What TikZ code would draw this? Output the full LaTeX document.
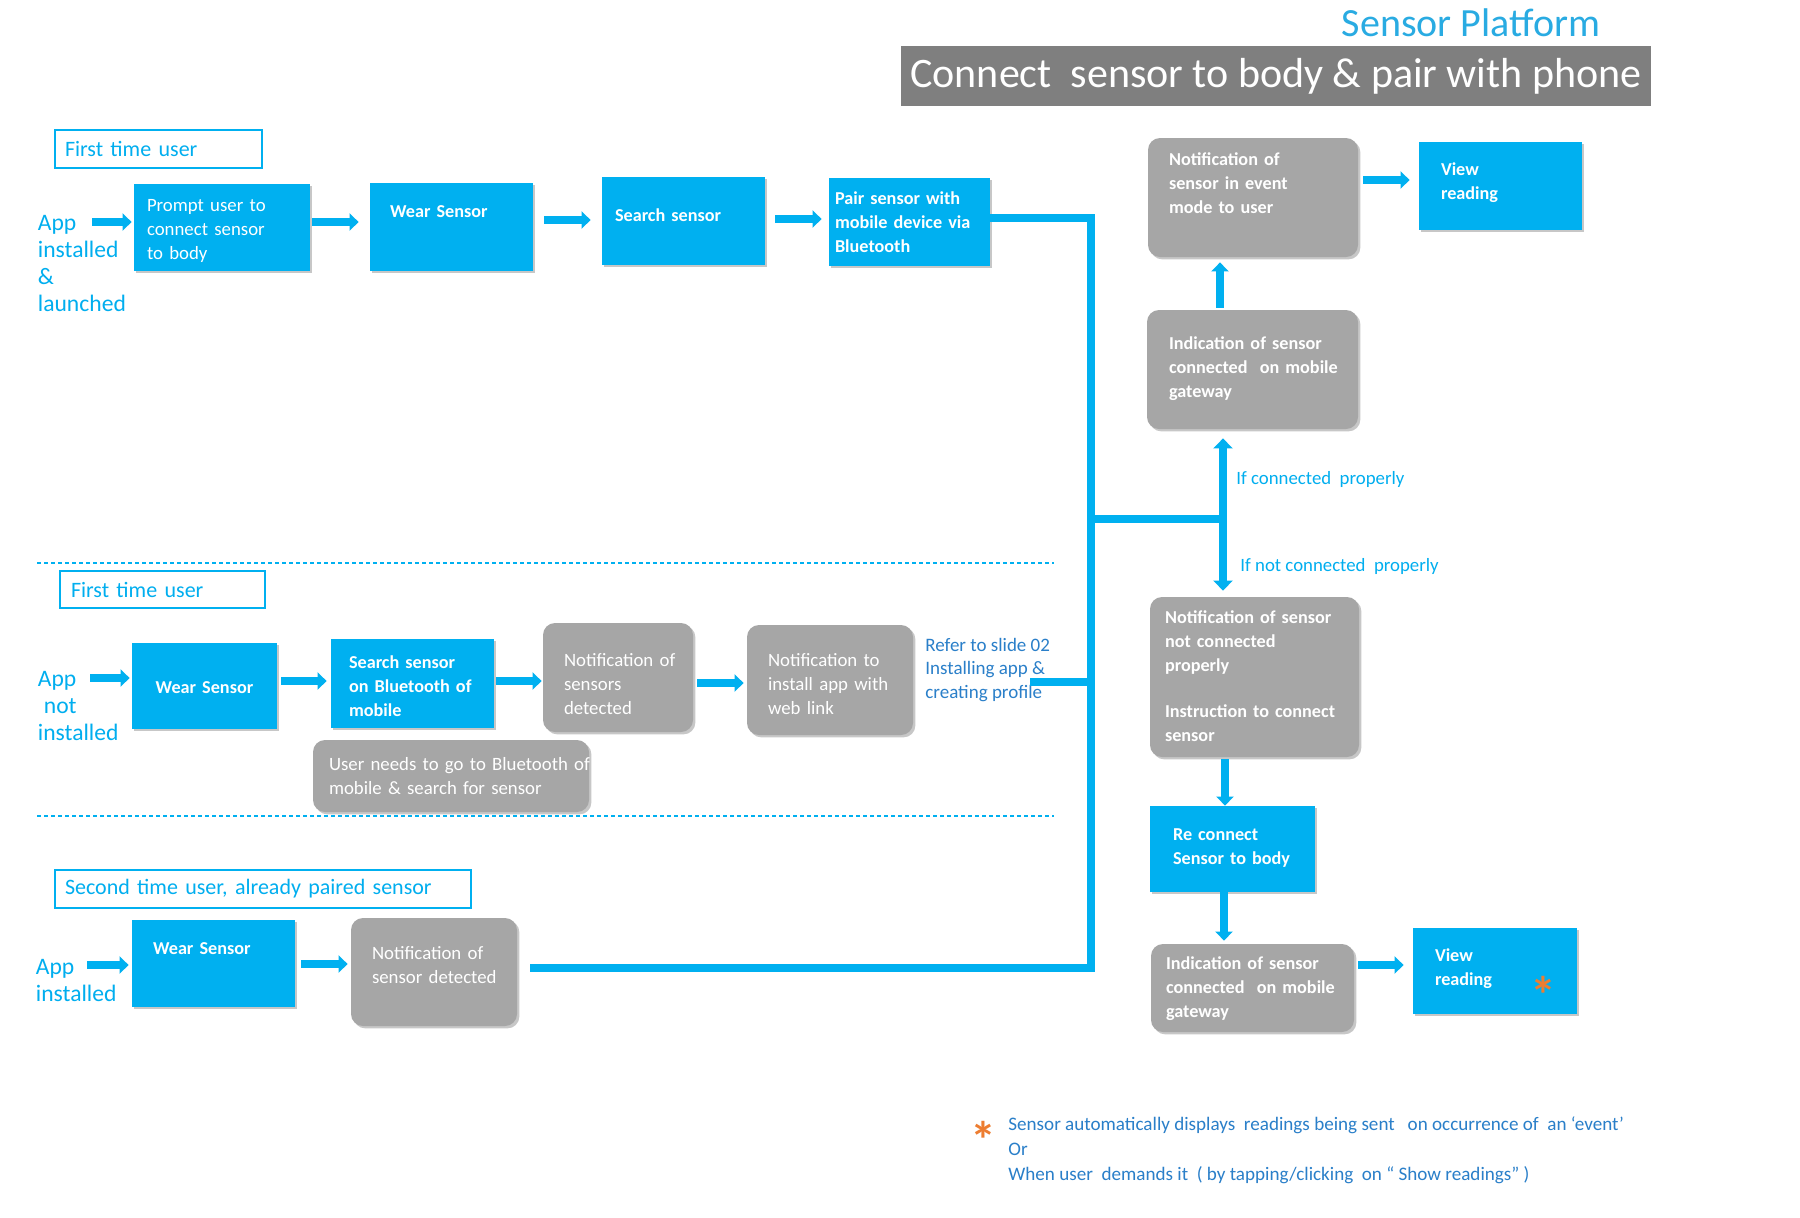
\documentclass[tikz,border=0pt]{standalone}
\usepackage{fontspec}
\setmainfont{Carlito}
\usetikzlibrary{arrows.meta,shadows}
\definecolor{cblue}{HTML}{00B0F0}
\definecolor{cgray}{HTML}{A6A6A6}
\definecolor{cbanner}{HTML}{7F7F7F}
\definecolor{ctext}{HTML}{00AEEF}
\definecolor{cdark}{HTML}{2A7FC9}
\definecolor{corange}{HTML}{ED7D31}
\definecolor{ctitle}{HTML}{29ABE2}
\newcommand\bxfont{\fontsize{9.1}{12}\selectfont\bfseries}
\newcommand\rgfont{\fontsize{9.4}{12}\selectfont}
\tikzset{
  boxshadow/.style={drop shadow={shadow xshift=1.2pt, shadow yshift=-1.2pt, opacity=0.22, fill=black}},
  nobreak/.style={execute at begin node={\hyphenpenalty=10000 \exhyphenpenalty=10000 \lefthyphenmin=64 }},
  bluebox/.style={fill=cblue, boxshadow, text=white, font=\bxfont, align=left, inner ysep=0pt, nobreak},
  graybox/.style={fill=cgray, rounded corners=6pt, boxshadow, text=white, font=\bxfont, align=left, inner ysep=0pt, nobreak},
  regtext/.style={font=\rgfont},
  tup/.style={text height=0pt, text depth=#1},
  tdn/.style={text height=#1, text depth=0pt},
  labbox/.style={draw=cblue, line width=0.8pt, text=ctext, font=\fontsize{11}{13}\selectfont, align=left, inner ysep=0pt},
  sidetext/.style={text=ctext, font=\fontsize{11.8}{13.5}\selectfont, align=left, inner sep=0pt, anchor=north west},
  barrow/.style={draw=cblue, line width=4pt, -{Triangle[width=8.5pt,length=4.5pt]}},
  busline/.style={draw=cblue, line width=4pt, line join=miter},
  varrow/.style={draw=cblue, line width=4pt, {Triangle[width=9.5pt,length=5pt]}-{Triangle[width=9.5pt,length=5pt]}},
  dashsep/.style={draw=cblue, line width=0.8pt, dash pattern=on 2pt off 1.5pt},
  condlabel/.style={anchor=west, text=ctext, font=\rgfont, inner sep=0pt},
  footline/.style={anchor=base west, text=cdark, font=\fontsize{9.55}{12}\selectfont, inner sep=0pt},
  starmark/.style={text=corange, font=\fontsize{26}{26}\selectfont\bfseries, inner sep=0pt, anchor=north},
}
\begin{document}
\begin{tikzpicture}[x=0.5pt,y=-0.5pt]
\fill[white] (0,0) rectangle (1800,1217);
\useasboundingbox (0,0) rectangle (1800,1217);

% title
\node[text=ctitle, font=\fontsize{20}{20}\selectfont, inner sep=0pt] (title) at (1471,23) {Sensor Platform};
\node[fill=cbanner, minimum width=375pt, minimum height=30pt, inner sep=0pt, text=white, font=\fontsize{21}{21}\selectfont] (banner) at (1276,76) {Connect\ \ sensor to body \& pair with phone};

% separators
\draw[dashsep] (37,563) -- (1054,563);
\draw[dashsep] (37,816) -- (1054,816);

% ---------- row 1 ----------
\node[labbox, inner xsep=5pt, text width=93.5pt, minimum height=19pt] (lab1) at (158.5,149) {First time user};
\node[sidetext] (app1) at (37.5,214.5) {App\\installed\\\&\\launched};
\node[bluebox, regtext, tup=16.2pt, inner xsep=6.5pt, text width=75pt, minimum height=43.5pt] (prompt) at (222,227.5) {Prompt~user~to\\connect~sensor\\to~body};
\node[bluebox, tup=9.9pt, inner xsep=10pt, text width=61.5pt, minimum height=44pt] (wear1) at (451.5,227) {Wear~Sensor};
\node[bluebox, tdn=0.7pt, inner xsep=6.5pt, text width=68.5pt, minimum height=44pt] (search1) at (683.5,221) {Search~sensor};
\node[bluebox, tup=17.5pt, inner xsep=3pt, text width=74.5pt, minimum height=44pt] (pair) at (909.5,222) {Pair~sensor~with\\mobile~device~via\\Bluetooth};

\coordinate (a1s) at (92,222);
\coordinate (r1a) at (0,222);
\coordinate (r1b) at (0,220);
\coordinate (r1c) at (0,219);
\draw[barrow, shorten >=1pt] (a1s) -- (a1s -| prompt.west);
\draw[barrow, shorten <=1pt, shorten >=5.5pt] (prompt.east |- r1a) -- (wear1.west |- r1a);
\draw[barrow, shorten <=5.5pt, shorten >=5.5pt] (wear1.east |- r1b) -- (search1.west |- r1b);
\draw[barrow, shorten <=5pt, shorten >=3.5pt] (search1.east |- r1c) -- (pair.west |- r1c);

% ---------- right column ----------
\node[graybox, tup=32.1pt, inner xsep=10.5pt, text width=84pt, minimum height=59.5pt] (notifev) at (1253,197.5) {Notification~of\\sensor~in~event\\mode~to~user};
\node[bluebox, tup=10.2pt, inner xsep=11pt, text width=59.5pt, minimum height=44pt] (view1) at (1500.5,186) {View\\reading};
\node[graybox, tup=20.4pt, inner xsep=11pt, text width=83.5pt, minimum height=59.5pt] (ind1) at (1252.5,369.5) {Indication~of~sensor\\connected~~on~mobile\\gateway};
\node[graybox, tup=53.5pt, inner xsep=7.5pt, text width=89.5pt, minimum height=80pt] (notconn) at (1254.5,677) {Notification~of~sensor\\not~connected\\properly\\[11pt]Instruction~to~connect\\sensor};
\node[bluebox, tup=8.6pt, inner xsep=11.5pt, text width=59.5pt, minimum height=43pt] (reconn) at (1232.5,849) {Re~connect\\Sensor~to~body};
\node[graybox, tup=19pt, inner xsep=7.5pt, text width=86.5pt, minimum height=44pt] (ind2) at (1252.5,988) {Indication~of~sensor\\connected~~on~mobile\\gateway};
\node[bluebox, tup=10pt, inner xsep=11pt, text width=60pt, minimum height=43pt] (view2) at (1495,971) {View\\reading};
\node[starmark] (star2) at (1543,976) {*};

\coordinate (xa) at (1220,0);
\coordinate (xb) at (1225,0);
\coordinate (xc) at (1224,0);
\coordinate (ya) at (0,180);
\coordinate (yb) at (0,965);
\draw[barrow, shorten <=1pt, shorten >=2.5pt] (xa |- ind1.north) -- (xa |- notifev.south);
\draw[barrow, shorten <=2.5pt, shorten >=4.5pt] (notifev.east |- ya) -- (view1.west |- ya);
\draw[barrow, shorten <=1pt] (xb |- notconn.south) -- (xb |- reconn.north);
\draw[barrow, shorten >=1.5pt] (xc |- reconn.south) -- (xc |- ind2.north);
\draw[barrow, shorten <=2pt, shorten >=4.5pt] (ind2.east |- yb) -- (view2.west |- yb);

\node[condlabel] (lcon) at (1236,479) {If connected\ \ properly};
\node[condlabel] (lnot) at (1240,566) {If not connected\ \ properly};

% ---------- row 2 ----------
\node[labbox, inner xsep=5.5pt, text width=91.5pt, minimum height=18.5pt] (lab2) at (162.5,589.5) {First time user};
\node[sidetext] (app2) at (37.5,670.5) {App\\\hspace{3pt}not\\installed};
\node[bluebox, tdn=7.5pt, align=center, inner xsep=0pt, text width=72.5pt, minimum height=43pt] (wear2) at (204.5,686) {Wear~Sensor};
\node[bluebox, tup=15.3pt, inner xsep=9pt, text width=63.5pt, minimum height=44.5pt] (searchbt) at (412.5,683.5) {Search~sensor\\on~Bluetooth~of\\mobile};
\node[graybox, regtext, tup=11.5pt, inner xsep=10.5pt, text width=54pt, minimum height=54.5pt] (notifsens) at (618,677.5) {Notification~of\\sensors\\detected};
\node[graybox, regtext, tup=14pt, inner xsep=10.5pt, text width=62pt, minimum height=55pt] (notifinst) at (830,680) {Notification~to\\install~app~with\\web~link};
\node[graybox, regtext, tup=5.6pt, inner xsep=8pt, text width=122pt, minimum height=36pt] (userneeds) at (451,776) {User~needs~to~go~to~Bluetooth~of\\mobile~\&~search~for~sensor};
\node[anchor=north west, text=cdark, font=\fontsize{9.5}{11.8}\selectfont, align=left, inner sep=0pt] (refer) at (925,637.5) {Refer to slide 02\\Installing app \&\\creating profile};

\coordinate (a2s) at (90,678);
\coordinate (y2a) at (0,681);
\coordinate (y2b) at (0,683);
\draw[barrow, shorten >=1pt] (a2s) -- (a2s -| wear2.west);
\draw[barrow, shorten <=2pt, shorten >=2pt] (wear2.east |- y2a) -- (searchbt.west |- y2a);
\draw[barrow, shorten <=1pt, shorten >=0.5pt] (searchbt.east |- y2a) -- (notifsens.west |- y2a);
\draw[barrow, shorten <=2pt, shorten >=1.5pt] (notifsens.east |- y2b) -- (notifinst.west |- y2b);

% ---------- row 3 ----------
\node[labbox, inner xsep=5pt, text width=198pt, minimum height=19pt] (lab3) at (263,889) {Second time user, already paired sensor};
\node[sidetext] (app3) at (35.5,958.5) {App\\installed};
\node[bluebox, tup=9.4pt, inner xsep=10.5pt, text width=60.5pt, minimum height=43.5pt] (wear3) at (213.5,963.5) {Wear~Sensor};
\node[graybox, regtext, tup=12.2pt, inner xsep=10.5pt, text width=62pt, minimum height=54pt] (notifdet) at (434,972) {Notification~of\\sensor~detected};

\coordinate (a3s) at (87,965);
\coordinate (y3) at (0,964);
\draw[barrow, shorten >=1.5pt] (a3s) -- (a3s -| wear3.west);
\draw[barrow, shorten <=3pt, shorten >=1.5pt] (wear3.east |- y3) -- (notifdet.west |- y3);

% ---------- bus ----------
\coordinate (bt) at (1091,218);
\coordinate (bb) at (1091,968);
\coordinate (bbe) at (530,968);
\coordinate (bj) at (1091,519);
\coordinate (vj) at (1223,519);
\coordinate (rj) at (1030,682);
\coordinate (rjb) at (1091,682);
\draw[busline] (pair.east |- bt) -- (bt) -- (bb) -- (bbe);
\draw[busline] (bj) -- (vj);
\draw[busline] (rj) -- (rjb);
\draw[varrow, shorten <=4.5pt, shorten >=3pt] (vj |- ind1.south) -- (vj |- notconn.north);

% ---------- footnote ----------
\node[starmark] (star1) at (983,1121) {*};
\node[footline] (foot1) at (1008,1130) {Sensor automatically displays\ \ readings being sent\ \ \ on occurrence of\ \ an ‘event’};
\node[footline] (foot2) at (1008,1155) {Or};
\node[footline] (foot3) at (1008,1180) {When user\ \ demands it\ \ ( by tapping/clicking\ \ on “ Show readings” )};
\end{tikzpicture}
\end{document}
